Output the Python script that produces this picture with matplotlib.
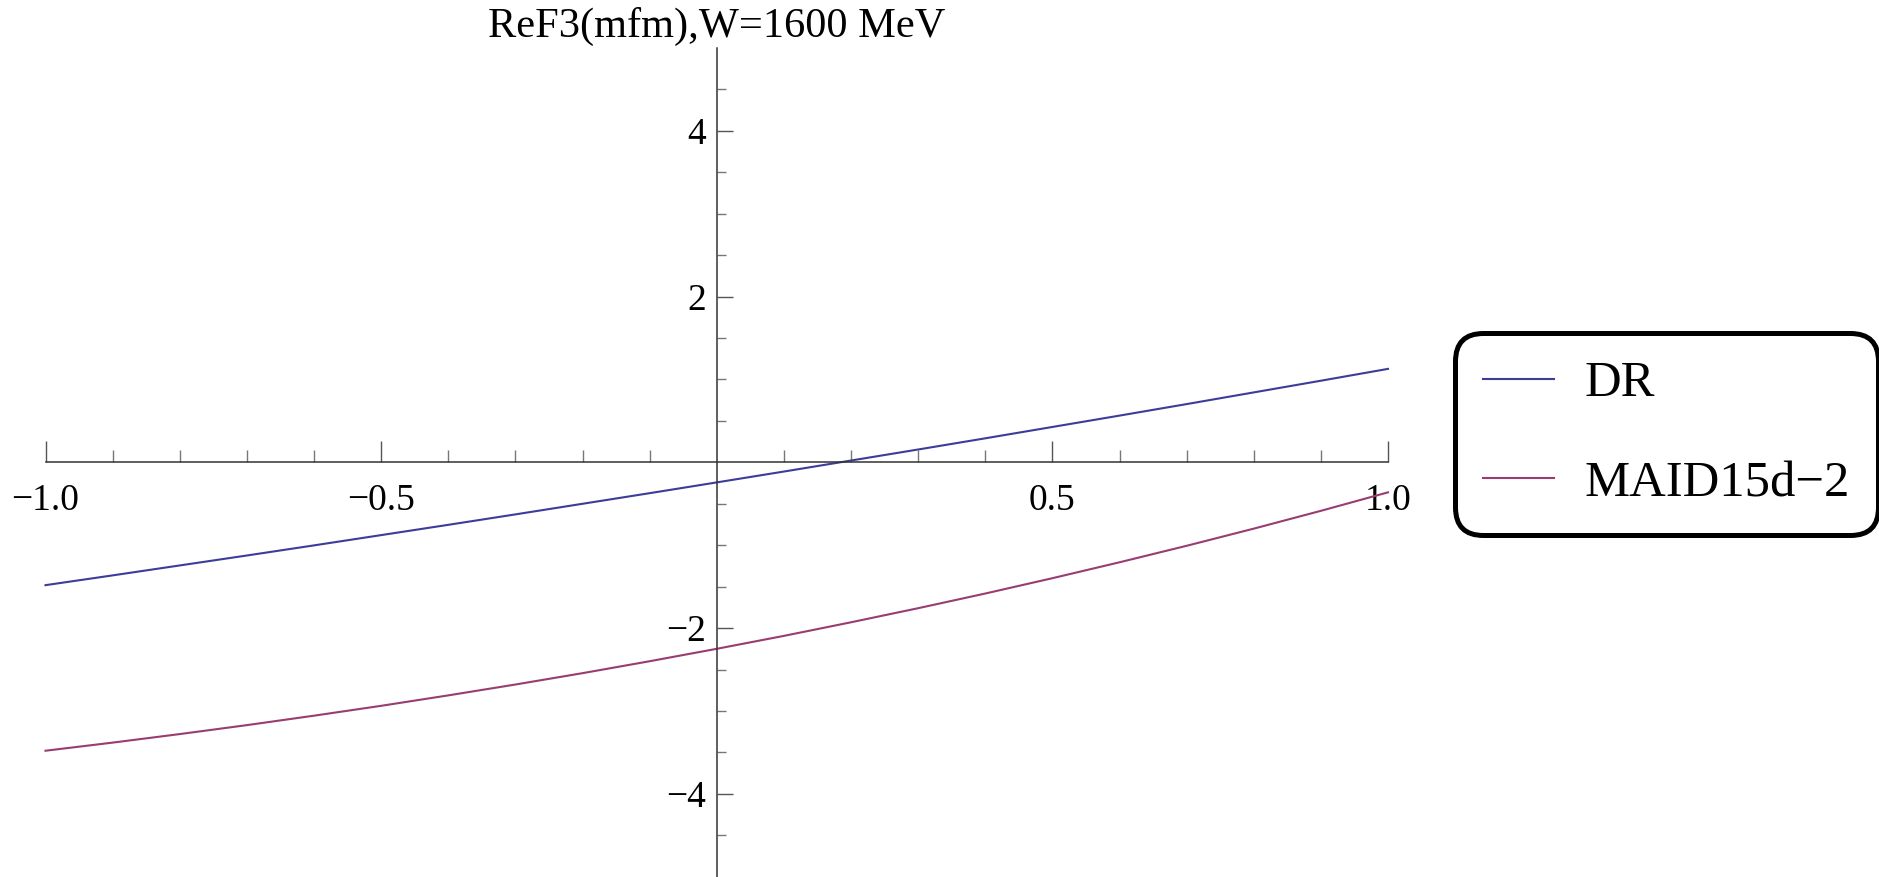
import matplotlib
matplotlib.use("Agg")
import matplotlib.pyplot as plt
from matplotlib.ticker import FixedLocator, FixedFormatter

plt.rcParams["font.family"] = ["Liberation Serif", "DejaVu Serif"]

# cos(theta) grid
cos_theta = [-1.0, -0.9, -0.8, -0.7, -0.6, -0.5, -0.4, -0.3, -0.2, -0.1, 0.0,
             0.1, 0.2, 0.3, 0.4, 0.5, 0.6, 0.7, 0.8, 0.9, 1.0]

# Re F3 in mfm
re_f3_dr = [-1.482, -1.364, -1.244, -1.124, -1.002, -0.878, -0.754, -0.628,
            -0.500, -0.372, -0.242, -0.111, 0.022, 0.155, 0.290, 0.427,
            0.564, 0.703, 0.844, 0.985, 1.128]
re_f3_maid = [-3.480, -3.382, -3.279, -3.171, -3.057, -2.938, -2.812, -2.681,
              -2.544, -2.400, -2.250, -2.094, -1.930, -1.760, -1.583, -1.398,
              -1.206, -1.007, -0.800, -0.585, -0.362]

series_labels = ["DR", "MAID15d\u22122"]
title_text = "ReF3(mfm),W=1600 MeV"

x_major = [-1.0, -0.5, 0.5, 1.0]
x_major_labels = ["\u22121.0", "\u22120.5", "0.5", "1.0"]
x_minor = [-0.9, -0.8, -0.7, -0.6, -0.4, -0.3, -0.2, -0.1,
           0.1, 0.2, 0.3, 0.4, 0.6, 0.7, 0.8, 0.9]
y_major = [-4, -2, 2, 4]
y_major_labels = ["\u22124", "\u22122", "2", "4"]
y_minor = [-4.5, -3.5, -3.0, -2.5, -1.5, -1.0, -0.5,
           0.5, 1.0, 1.5, 2.5, 3.0, 3.5, 4.5]

W, H = 1879, 877
fig = plt.figure(figsize=(W / 100, H / 100), dpi=100)
ax = fig.add_axes([45.5 / W, 0.3 / H, (1388 - 45.5) / W, (876.7 - 48) / H])
ax.set_xlim(-1, 1)
ax.set_ylim(-5, 5)

c_dr = (0.24, 0.24, 0.6)
c_maid = (0.6, 0.24, 0.442)
ax.plot(cos_theta, re_f3_dr, color=c_dr, lw=1.5, label=series_labels[0], clip_on=False)
ax.plot(cos_theta, re_f3_maid, color=c_maid, lw=1.5, label=series_labels[1], clip_on=False)

# axes crossing at the origin
for s in ("top", "right"):
    ax.spines[s].set_visible(False)
ax.spines["left"].set_position(("data", 0))
ax.spines["bottom"].set_position(("data", 0))
for s in ("left", "bottom"):
    ax.spines[s].set_color("#333333")
    ax.spines[s].set_linewidth(1.1)

ax.xaxis.set_major_locator(FixedLocator(x_major))
ax.xaxis.set_major_formatter(FixedFormatter(x_major_labels))
ax.xaxis.set_minor_locator(FixedLocator(x_minor))
ax.yaxis.set_major_locator(FixedLocator(y_major))
ax.yaxis.set_major_formatter(FixedFormatter(y_major_labels))
ax.yaxis.set_minor_locator(FixedLocator(y_minor))

ax.tick_params(axis="x", which="major", direction="in", length=15, width=1.0,
               color="#555555", labelsize=27, pad=15)
ax.tick_params(axis="x", which="minor", direction="in", length=8.6, width=1.0,
               color="#777777")
ax.tick_params(axis="y", which="major", direction="in", length=11.5, width=1.0,
               color="#555555", labelsize=27, pad=8)
ax.tick_params(axis="y", which="minor", direction="in", length=6.5, width=1.0,
               color="#777777")

ax.patch.set_alpha(0)

fig.text(717 / W, 1 - 37 / H, title_text, ha="center", va="baseline", fontsize=30.5)

leg = fig.legend(loc="center left", bbox_to_anchor=(1455 / W, 1 - 434 / H),
                 fontsize=36.5, frameon=True, fancybox=True, handlelength=1.4,
                 handletextpad=0.6, borderpad=0.55, labelspacing=1.05,
                 borderaxespad=0)
frame = leg.get_frame()
frame.set_edgecolor("black")
frame.set_linewidth(3.6)
frame.set_boxstyle("round", pad=0, rounding_size=0.55)
frame.set_alpha(1)

fig.savefig("out.png", dpi=100)
